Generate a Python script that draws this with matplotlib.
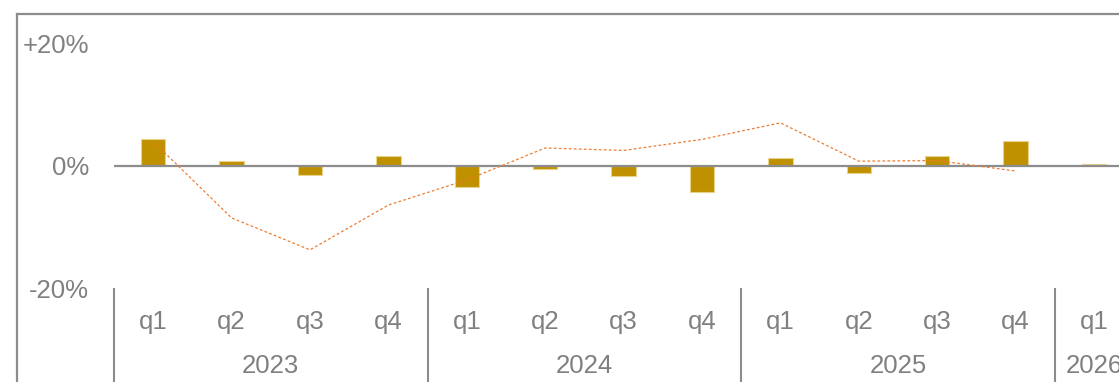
import numpy as np
import matplotlib.pyplot as plt
from matplotlib.lines import Line2D
from matplotlib.transforms import blended_transform_factory

plt.rcParams['font.family'] = ['Liberation Sans', 'DejaVu Sans']

quarters = ['q1', 'q2', 'q3', 'q4', 'q1', 'q2', 'q3', 'q4', 'q1', 'q2', 'q3', 'q4', 'q1']
years = ['2023', '2024', '2025', '2026']
year_start = [0, 4, 8, 12]
year_end = [3, 7, 11, 12]
bar_vals = [4.3, 0.75, -1.45, 1.6, -3.4, -0.5, -1.6, -4.35, 1.2, -1.25, 1.6, 4.0, 0.25]
line_vals = [3.95, -8.5, -13.7, -6.4, -2.3, 2.9, 2.5, 4.3, 7.0, 0.75, 0.85, -0.85]
ytick_vals = [-20, 0, 20]
ytick_labels = ['-20%', '0%', '+20%']

grey = '#808080'
fs = 18.5
W, H = 1119, 382

fig = plt.figure(figsize=(W / 100, H / 100), dpi=100)
ax = fig.add_axes([114 / W, (H - 288.5) / H, 1 - 114 / W, (288.5 - 14) / H])

x = np.arange(len(quarters))
ax.bar(x, bar_vals, width=0.31, color='#BF9000', edgecolor='#E8D38A', linewidth=0.8, zorder=2)
ax.axhline(0, color='#8C8C8C', linewidth=1.6, zorder=3)
ax.plot(np.arange(len(line_vals)), line_vals, color='#ED7D31', linewidth=0.9,
        linestyle=(0, (2.2, 1.8)), zorder=4)

ax.set_xlim(-0.5, -0.5 + (W - 114) / 78.4)
ax.set_ylim(-20, (165.5 - 14) / 6.125)
for s in ax.spines.values():
    s.set_visible(False)
ax.set_xticks([])
ax.set_yticks(ytick_vals)
ax.set_yticklabels(ytick_labels)
ax.tick_params(axis='y', length=0, pad=18, labelsize=fs, labelcolor=grey)

# two-level category axis below the plot
tr = blended_transform_factory(ax.transData, ax.transAxes)
ax_h = 288.5 - 14
for i, q in enumerate(quarters):
    ax.text(i, -(322 - 288.5) / ax_h, q, transform=tr, ha='center', va='center',
            fontsize=fs, color=grey, clip_on=False)
for yr, a, b in zip(years, year_start, year_end):
    ax.text((a + b) / 2, -(366 - 288.5) / ax_h, yr, transform=tr, ha='center', va='center',
            fontsize=fs, color=grey, clip_on=False)
for sep in [-0.5, 3.5, 7.5, 11.5]:
    ax.add_line(Line2D([sep, sep], [0, -0.4], transform=tr, color='#8C8C8C',
                       linewidth=1.5, clip_on=False))

# outer frame (open on the right and bottom)
fig.add_artist(Line2D([17 / W, 17 / W], [0, (H - 14) / H], color='#8C8C8C', linewidth=1.6))
fig.add_artist(Line2D([17 / W, 1], [(H - 14) / H, (H - 14) / H], color='#8C8C8C', linewidth=1.6))

fig.savefig('out.png', dpi=100)
